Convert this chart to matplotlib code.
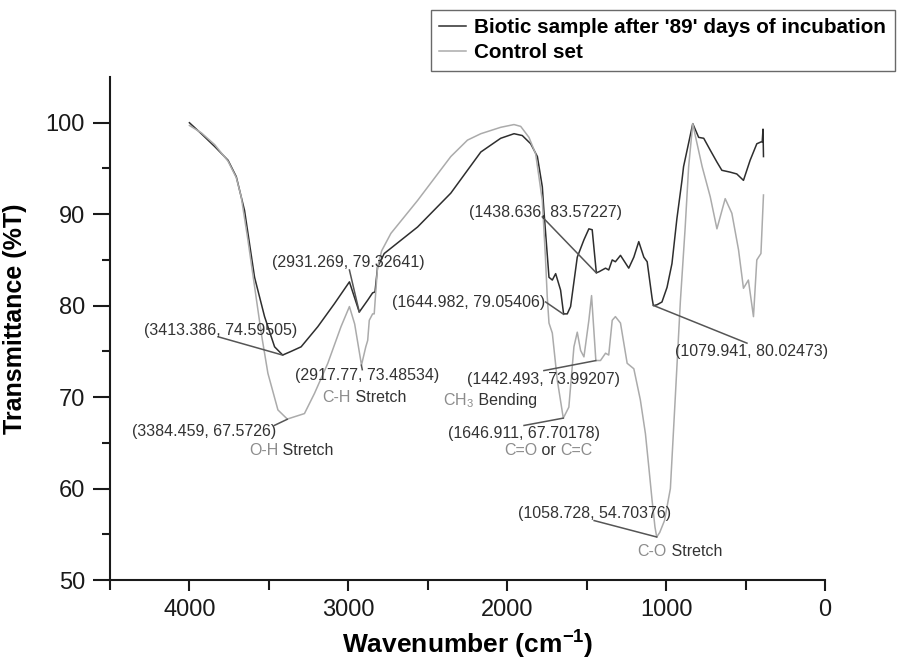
"""
FTIR spectra: biotic sample after 89 days of incubation vs. control set.

Writes out.png next to where it is run.
"""

from __future__ import annotations

import matplotlib

matplotlib.use("Agg")
import matplotlib.pyplot as plt
from matplotlib.offsetbox import AnnotationBbox, HPacker, TextArea
from matplotlib.ticker import MultipleLocator

# --- spectra (wavenumber in cm-1, transmittance in %T) ---
biotic_wn = [
    4000, 3925, 3841, 3757, 3705, 3653, 3590, 3527, 3464, 3413, 3360, 3297,
    3192, 3088, 2993, 2931, 2878, 2847, 2832, 2816, 2774, 2564, 2355, 2166,
    2041, 1957, 1905, 1852, 1810, 1779, 1769, 1737, 1716, 1695, 1664, 1645,
    1622, 1601, 1559, 1517, 1486, 1465, 1439, 1423, 1381, 1361, 1339, 1319,
    1287, 1235, 1203, 1172, 1140, 1119, 1088, 1080, 1057, 1026, 994, 963,
    932, 900, 890, 832, 795, 763, 722, 680, 649, 597, 555, 513, 471, 429,
    403, 395, 390, 387,
]
biotic_t = [
    100.0, 98.8, 97.4, 95.9, 94.1, 90.4, 83.1, 78.8, 75.5, 74.6, 75.0, 75.5,
    77.7, 80.2, 82.6, 79.3, 80.6, 81.4, 81.5, 84.2, 85.7, 88.6, 92.3, 96.8,
    98.3, 98.8, 98.6, 97.7, 96.3, 93.0, 90.4, 83.1, 82.8, 83.5, 81.7, 79.1,
    79.1, 79.9, 85.3, 87.2, 88.4, 88.3, 83.6, 83.7, 84.1, 83.9, 85.0, 84.8,
    85.5, 84.1, 85.3, 87.0, 85.3, 84.8, 80.8, 80.0, 80.1, 80.4, 82.0, 84.6,
    89.5, 93.7, 95.2, 99.9, 98.4, 98.3, 97.0, 95.7, 94.8, 94.6, 94.4, 93.7,
    95.9, 97.7, 97.9, 97.9, 99.3, 96.3,
]

control_wn = [
    4000, 3925, 3841, 3757, 3705, 3674, 3632, 3590, 3548, 3506, 3443, 3384,
    3276, 3213, 3129, 3046, 2993, 2960, 2917, 2890, 2878, 2868, 2847, 2837,
    2816, 2790, 2732, 2564, 2355, 2250, 2166, 2041, 1957, 1915, 1863, 1821,
    1779, 1760, 1748, 1737, 1716, 1685, 1647, 1612, 1580, 1559, 1538, 1517,
    1486, 1469, 1442, 1413, 1381, 1361, 1339, 1319, 1287, 1245, 1203, 1162,
    1130, 1109, 1088, 1070, 1059, 1040, 1010, 973, 942, 910, 880, 858, 832,
    815, 773, 722, 680, 628, 586, 544, 513, 482, 450, 429, 403, 387,
]
control_t = [
    99.7, 98.9, 97.6, 95.8, 94.0, 91.9, 87.2, 82.1, 77.0, 72.6, 68.6, 67.6,
    68.2, 70.4, 73.7, 77.7, 79.9, 78.0, 73.5, 75.5, 76.2, 78.4, 79.1, 79.1,
    84.2, 86.0, 87.9, 91.5, 96.3, 98.1, 98.8, 99.5, 99.8, 99.6, 98.4, 96.6,
    91.5, 85.5, 81.0, 78.1, 77.0, 71.9, 67.7, 68.9, 75.5, 77.1, 75.1, 74.4,
    78.4, 81.1, 74.0, 74.0, 74.8, 74.6, 78.4, 78.8, 78.1, 73.7, 73.1, 69.7,
    66.0, 62.4, 58.7, 55.8, 54.7, 55.2, 56.5, 60.0, 70.0, 80.5, 88.5, 95.2,
    99.9, 98.5, 95.2, 91.9, 88.4, 91.7, 90.1, 86.1, 81.9, 82.8, 78.8, 85.0,
    85.7, 92.1,
]

# --- peak callouts: label text, peak (wn, T), text centre, leader start ---
peak_labels = [
    "(3413.386, 74.59505)", "(2931.269, 79.32641)", "(2917.77, 73.48534)",
    "(3384.459, 67.5726)", "(1438.636, 83.57227)", "(1644.982, 79.05406)",
    "(1442.493, 73.99207)", "(1646.911, 67.70178)", "(1058.728, 54.70376)",
    "(1079.941, 80.02473)",
]
peak_xy = [
    (3413.386, 74.59505), (2931.269, 79.32641), (2917.77, 73.48534),
    (3384.459, 67.5726), (1438.636, 83.57227), (1644.982, 79.05406),
    (1442.493, 73.99207), (1646.911, 67.70178), (1058.728, 54.70376),
    (1079.941, 80.02473),
]
label_xy = [
    (3805, 77.3), (3003, 84.75), (2882, 72.4), (3906, 66.2), (1758, 90.2),
    (2245, 80.3), (1771, 71.9), (1896, 66.0), (1450, 57.3), (459, 75.0),
]
leader_from = [
    (3820, 76.6), (2993, 83.9), (2912, 73.0), (3466, 66.9), (1779, 89.7),
    (1758, 80.4), (1769, 72.9), (1894, 66.9), (1453, 56.5), (491, 75.9),
]

# --- band assignments: (grey part, dark part) pieces and centre ---
band_parts = [
    [("O-H", "g"), (" Stretch", "d")],
    [("C-H", "g"), (" Stretch", "d")],
    [("CH$_3$", "g"), (" Bending", "d")],
    [("C=O", "g"), (" or ", "d"), ("C=C", "g")],
    [("C-O", "g"), (" Stretch", "d")],
]
band_xy = [(3359, 64.2), (2901, 70.0), (2110, 69.6), (1742, 64.2), (915, 53.1)]

series_names = ["Biotic sample after '89' days of incubation", "Control set"]

DARK = "#2e2e2e"
LIGHT = "#ababab"
TEXT = "#333333"
GREY_TXT = "#8c8c8c"


def main() -> None:
    plt.rcParams["font.family"] = ["Liberation Sans", "DejaVu Sans"]
    plt.rcParams["mathtext.fontset"] = "custom"
    plt.rcParams["mathtext.rm"] = "Liberation Sans"
    plt.rcParams["mathtext.bf"] = "Liberation Sans:bold"

    fig = plt.figure(figsize=(8.97, 6.61), dpi=100)
    ax = fig.add_axes([0.1226, 0.1225, 0.7971, 0.761])

    ax.plot(biotic_wn, biotic_t, color=DARK, lw=1.1, label=series_names[0])
    ax.plot(control_wn, control_t, color=LIGHT, lw=1.1, label=series_names[1])

    ax.set_xlim(4500, 0)
    ax.set_ylim(50, 105)
    ax.xaxis.set_major_locator(MultipleLocator(1000))
    ax.xaxis.set_minor_locator(MultipleLocator(500))
    ax.yaxis.set_major_locator(MultipleLocator(10))
    ax.set_yticks([55, 65, 75, 85, 95], minor=True)

    for side in ("top", "right"):
        ax.spines[side].set_visible(False)
    for side in ("left", "bottom"):
        ax.spines[side].set_linewidth(1.5)
        ax.spines[side].set_color("#1a1a1a")

    ax.tick_params(axis="both", which="both", direction="out", width=1.5,
                   colors="#1a1a1a", labelsize=17)
    ax.tick_params(axis="y", which="major", length=12, pad=6)
    ax.tick_params(axis="y", which="minor", length=6)
    ax.tick_params(axis="x", which="major", length=8, pad=6)
    ax.tick_params(axis="x", which="minor", length=7)

    ax.set_xlabel(r"Wavenumber (cm$^{\mathbf{-1}}$)", fontsize=19,
                  fontweight="bold", labelpad=4)
    ax.set_ylabel("Transmittance (%T)", fontsize=18, fontweight="bold")
    ax.yaxis.set_label_coords(-0.116, 0.52)

    # peak coordinates with leader lines
    for text, pt, txy, lead in zip(peak_labels, peak_xy, label_xy, leader_from):
        ax.text(txy[0], txy[1], text, ha="center", va="center",
                fontsize=11.5, color=TEXT)
        ax.plot([lead[0], pt[0]], [lead[1], pt[1]], color="#555555", lw=1.1)

    # band assignments, two-tone text
    for parts, (bx, by) in zip(band_parts, band_xy):
        areas = [
            TextArea(s, textprops=dict(
                fontsize=11.5, color=GREY_TXT if c == "g" else TEXT))
            for s, c in parts
        ]
        box = HPacker(children=areas, align="baseline", pad=0, sep=0)
        ax.add_artist(AnnotationBbox(box, (bx, by), frameon=False, pad=0,
                                     box_alignment=(0.5, 0.5)))

    leg = fig.legend(loc="upper left", bbox_to_anchor=(431 / 897, 1 - 10 / 661),
                     prop=dict(weight="bold", size=14.9), frameon=True,
                     fancybox=False, borderpad=0.4, handlelength=1.3,
                     handletextpad=0.4, labelspacing=0.3, borderaxespad=0)
    leg.get_frame().set_edgecolor("#444444")
    leg.get_frame().set_linewidth(1.0)

    fig.savefig("out.png", dpi=100)


if __name__ == "__main__":
    main()
